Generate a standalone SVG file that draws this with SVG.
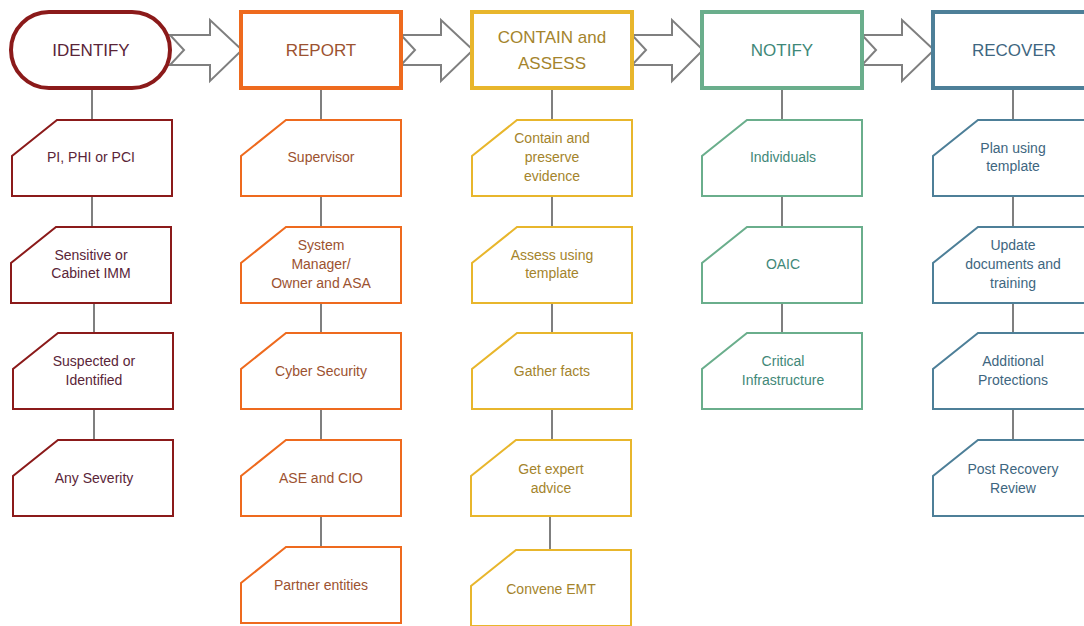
<svg xmlns="http://www.w3.org/2000/svg" width="1084" height="626" viewBox="0 0 1084 626">
<defs>
<style>
text{font-family:"Liberation Sans",Arial,sans-serif;text-anchor:middle}
.h{font-size:17px}
.s{font-size:14px}
.conn line{stroke:#7f7f7f;stroke-width:2}
.arr{fill:#fff;stroke:#7f7f7f;stroke-width:2;stroke-linejoin:miter}
.c1 .hd,.c1 .bx{stroke:#8b1a1a}
.c2 .hd,.c2 .bx{stroke:#ee6a1e}
.c3 .hd,.c3 .bx{stroke:#e8b62c}
.c4 .hd,.c4 .bx{stroke:#6aae8c}
.c5 .hd,.c5 .bx{stroke:#4d7f98}
.hd{fill:#fff;stroke-width:4}
.bx{fill:#fff;stroke-width:2}
.c1 text{fill:#5a2538}
.c2 text{fill:#9c5230}
.c3 text{fill:#a4842c}
.c4 text{fill:#3f8878}
.c5 text{fill:#3e6680}
</style>
<path id="b" d="M45,0 H160 V76 H0 V36 Z"/>
</defs>
<rect width="1084" height="626" fill="#fff"/>

<g id="connectors" class="conn">
<line x1="92" y1="88" x2="92" y2="120"/>
<line x1="92" y1="196" x2="92" y2="227"/>
<line x1="94" y1="303" x2="94" y2="333"/>
<line x1="94" y1="409" x2="94" y2="440"/>
<line x1="321" y1="88" x2="321" y2="120"/>
<line x1="321" y1="196" x2="321" y2="227"/>
<line x1="321" y1="303" x2="321" y2="333"/>
<line x1="321" y1="409" x2="321" y2="440"/>
<line x1="321" y1="516" x2="321" y2="547"/>
<line x1="552" y1="88" x2="552" y2="120"/>
<line x1="552" y1="196" x2="552" y2="227"/>
<line x1="552" y1="303" x2="552" y2="333"/>
<line x1="552" y1="409" x2="552" y2="440"/>
<line x1="550" y1="516" x2="550" y2="550"/>
<line x1="782" y1="88" x2="782" y2="120"/>
<line x1="782" y1="196" x2="782" y2="227"/>
<line x1="782" y1="303" x2="782" y2="333"/>
<line x1="1013" y1="88" x2="1013" y2="120"/>
<line x1="1013" y1="196" x2="1013" y2="227"/>
<line x1="1013" y1="303" x2="1013" y2="333"/>
<line x1="1013" y1="409" x2="1013" y2="440"/>
<path class="arr" d="M170,35 H210 V20 L242,50 L210,81 V65 H170 L184,50 Z"/>
<path class="arr" d="M401,35 H441 V20 L473,50 L441,81 V65 H401 L415,50 Z"/>
<path class="arr" d="M632,35 H672 V20 L703,50 L672,81 V65 H632 L646,50 Z"/>
<path class="arr" d="M862,35 H902 V20 L934,50 L902,81 V65 H862 L876,50 Z"/>
</g>

<g id="col1" class="c1">
<g id="identify"><rect class="hd" x="11" y="12" width="159" height="76" rx="38"/><text class="h" x="91" y="56">IDENTIFY</text></g>
<g id="n-pi"><use href="#b" class="bx" x="12" y="120"/><text class="s" x="91" y="162">PI, PHI or PCI</text></g>
<g id="n-sensitive"><use href="#b" class="bx" x="11" y="227"/><text class="s" x="91" y="260">Sensitive or</text><text class="s" x="91" y="278">Cabinet IMM</text></g>
<g id="n-suspected"><use href="#b" class="bx" x="13" y="333"/><text class="s" x="94" y="366">Suspected or</text><text class="s" x="94" y="385">Identified</text></g>
<g id="n-severity"><use href="#b" class="bx" x="13" y="440"/><text class="s" x="94" y="483">Any Severity</text></g>
</g>

<g id="col2" class="c2">
<g id="report"><rect class="hd" x="241" y="12" width="160" height="76"/><text class="h" x="321" y="56">REPORT</text></g>
<g id="n-supervisor"><use href="#b" class="bx" x="241" y="120"/><text class="s" x="321" y="162">Supervisor</text></g>
<g id="n-system"><use href="#b" class="bx" x="241" y="227"/><text class="s" x="321" y="250">System</text><text class="s" x="321" y="269">Manager/</text><text class="s" x="321" y="288">Owner and ASA</text></g>
<g id="n-cyber"><use href="#b" class="bx" x="241" y="333"/><text class="s" x="321" y="376">Cyber Security</text></g>
<g id="n-ase"><use href="#b" class="bx" x="241" y="440"/><text class="s" x="321" y="483">ASE and CIO</text></g>
<g id="n-partner"><use href="#b" class="bx" x="241" y="547"/><text class="s" x="321" y="590">Partner entities</text></g>
</g>

<g id="col3" class="c3">
<g id="contain"><rect class="hd" x="472" y="12" width="160" height="76"/><text class="h" x="552" y="43">CONTAIN and</text><text class="h" x="552" y="69">ASSESS</text></g>
<g id="n-preserve"><use href="#b" class="bx" x="472" y="120"/><text class="s" x="552" y="143">Contain and</text><text class="s" x="552" y="162">preserve</text><text class="s" x="552" y="181">evidence</text></g>
<g id="n-assess"><use href="#b" class="bx" x="472" y="227"/><text class="s" x="552" y="260">Assess using</text><text class="s" x="552" y="278">template</text></g>
<g id="n-gather"><use href="#b" class="bx" x="472" y="333"/><text class="s" x="552" y="376">Gather facts</text></g>
<g id="n-expert"><use href="#b" class="bx" x="471" y="440"/><text class="s" x="551" y="474">Get expert</text><text class="s" x="551" y="493">advice</text></g>
<g id="n-emt"><use href="#b" class="bx" x="471" y="550"/><text class="s" x="551" y="594">Convene EMT</text></g>
</g>

<g id="col4" class="c4">
<g id="notify"><rect class="hd" x="702" y="12" width="160" height="76"/><text class="h" x="782" y="56">NOTIFY</text></g>
<g id="n-individuals"><use href="#b" class="bx" x="702" y="120"/><text class="s" x="783" y="162">Individuals</text></g>
<g id="n-oaic"><use href="#b" class="bx" x="702" y="227"/><text class="s" x="783" y="269">OAIC</text></g>
<g id="n-critical"><use href="#b" class="bx" x="702" y="333"/><text class="s" x="783" y="366">Critical</text><text class="s" x="783" y="385">Infrastructure</text></g>
</g>

<g id="col5" class="c5">
<g id="recover"><rect class="hd" x="933" y="12" width="160" height="76"/><text class="h" x="1014" y="56">RECOVER</text></g>
<g id="n-plan"><use href="#b" class="bx" x="933" y="120"/><text class="s" x="1013" y="153">Plan using</text><text class="s" x="1013" y="171">template</text></g>
<g id="n-update"><use href="#b" class="bx" x="933" y="227"/><text class="s" x="1013" y="250">Update</text><text class="s" x="1013" y="269">documents and</text><text class="s" x="1013" y="288">training</text></g>
<g id="n-additional"><use href="#b" class="bx" x="933" y="333"/><text class="s" x="1013" y="366">Additional</text><text class="s" x="1013" y="385">Protections</text></g>
<g id="n-post"><use href="#b" class="bx" x="933" y="440"/><text class="s" x="1013" y="474">Post Recovery</text><text class="s" x="1013" y="493">Review</text></g>
</g>
</svg>
